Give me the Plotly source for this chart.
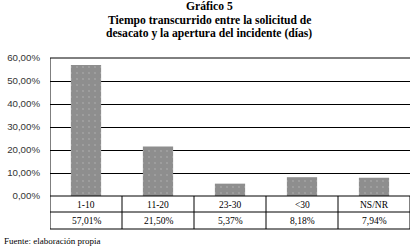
import plotly.graph_objects as go

categories = ["1-10", "11-20", "23-30", "<30", "NS/NR"]
values = [0.5701, 0.2150, 0.0537, 0.0818, 0.0794]
title_lines = ["Gráfico 5",
               "Tiempo transcurrido entre la solicitud de",
               "desacato y la apertura del incidente (días)"]
source_text = "Fuente: elaboración propia"

def fmt_pct(v):
    return f"{v*100:.2f}%".replace(".", ",")

x_idx = list(range(len(categories)))

serif = "Liberation Serif, Times New Roman, serif"
sans = "Liberation Sans, Arial, sans-serif"

W, H = 418, 252
plot_left, plot_right = 50, 410
plot_top, plot_bot = 58, 196
ph = plot_bot - plot_top

def py(pix):
    return (plot_bot - pix) / ph

def px(pix):
    return (pix - plot_left) / (plot_right - plot_left)

fig = go.Figure()
fig.add_trace(go.Bar(
    x=x_idx, y=values, width=0.42,
    marker=dict(color="#8e8e8e", line=dict(width=0),
                pattern=dict(shape=".", fgcolor="#b4b4b4", size=6, solidity=0.1)),
    hoverinfo="skip",
))

line = dict(color="black", width=1)
row1 = py(212)
row2 = py(229)
shapes = []
for yy in [0, row1, row2, 1]:
    shapes.append(dict(type="line", xref="x", yref="paper", x0=-0.5, x1=4.5,
                       y0=yy, y1=yy, line=line))
for i in range(len(categories) + 1):
    shapes.append(dict(type="line", xref="x", yref="paper", x0=i - 0.5, x1=i - 0.5,
                       y0=row2, y1=1 if i == 0 else 0, line=line))

annotations = []
for i, (c, v) in enumerate(zip(categories, values)):
    annotations.append(dict(x=i, y=py(204.5), xref="x", yref="paper", text=c, showarrow=False,
                            font=dict(family=serif, size=9.5, color="black"), yanchor="middle"))
    annotations.append(dict(x=i, y=py(221), xref="x", yref="paper", text=fmt_pct(v),
                            showarrow=False, font=dict(family=serif, size=9.5, color="black"),
                            yanchor="middle"))
for t, yy in zip(title_lines, [7, 21, 34]):
    annotations.append(dict(x=px(W / 2), y=py(yy), xref="paper", yref="paper",
                            text=f"<b>{t}</b>", showarrow=False, xanchor="center",
                            font=dict(family=serif, size=11.6, color="black"), yanchor="middle"))
annotations.append(dict(x=px(2), y=py(241), xref="paper", yref="paper", text=source_text,
                        showarrow=False, xanchor="left", yanchor="middle",
                        font=dict(family=serif, size=9, color="black")))

fig.update_layout(
    width=W, height=H,
    margin=dict(l=plot_left, r=W - plot_right, t=plot_top, b=H - plot_bot, pad=0),
    paper_bgcolor="white", plot_bgcolor="white",
    separators=",.",
    showlegend=False,
    xaxis=dict(range=[-0.5, 4.5], showticklabels=False, showgrid=False, zeroline=False,
               showline=False, ticks=""),
    yaxis=dict(range=[0, 0.6], dtick=0.1, tickformat=".2%", showgrid=True, gridcolor="black",
               gridwidth=1, zeroline=False, showline=False, ticks="", ticklabelstandoff=9,
               automargin=False,
               tickfont=dict(family=sans, size=9.7, color="#333")),
    shapes=shapes,
    annotations=annotations,
)

fig.write_html("out.html", config={"displayModeBar": False},
               post_script="document.body.style.margin='0';")
